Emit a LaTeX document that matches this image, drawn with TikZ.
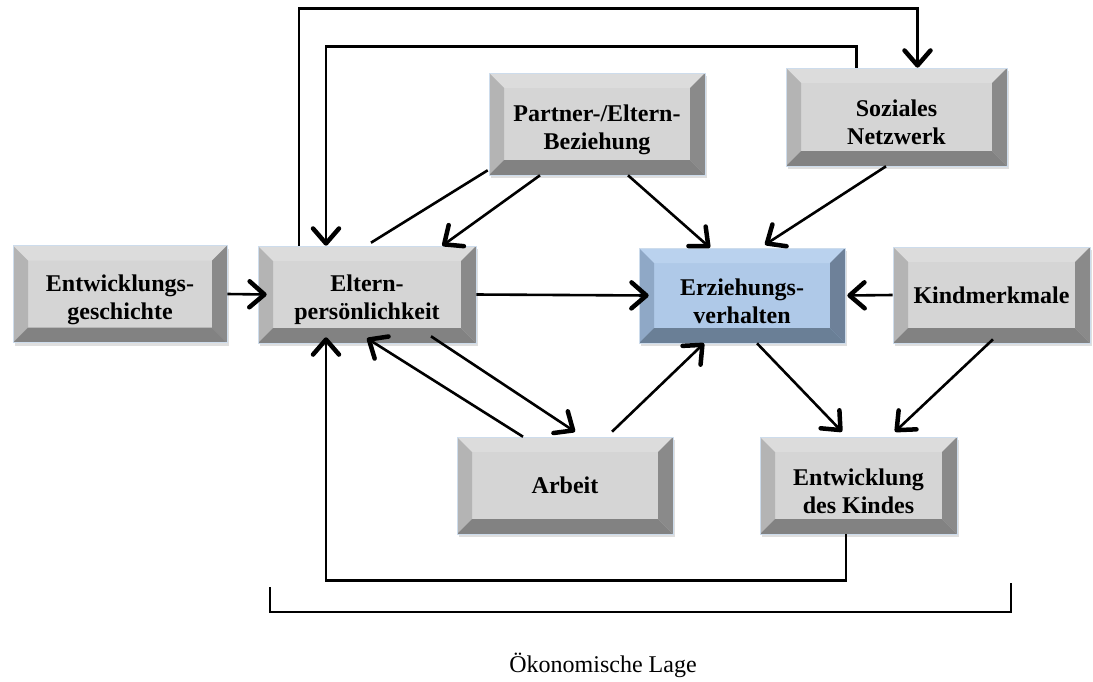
\documentclass[tikz,border=0pt]{standalone}
\usepackage{fontspec}
\setmainfont{Liberation Serif}
\usetikzlibrary{arrows.meta, shadows}
\definecolor{boxface}{RGB}{213,213,213}
\definecolor{boxtop}{RGB}{220,220,220}
\definecolor{boxleft}{RGB}{180,180,180}
\definecolor{boxright}{RGB}{138,138,138}
\definecolor{boxbottom}{RGB}{130,130,130}
\definecolor{bluface}{RGB}{175,201,232}
\definecolor{blutop}{RGB}{186,210,238}
\definecolor{bluleft}{RGB}{143,168,198}
\definecolor{bluright}{RGB}{110,129,153}
\definecolor{blubottom}{RGB}{106,127,150}
\definecolor{boxedge}{RGB}{205,220,236}
\newcommand{\bevelfill}[5]{%
  \fill[#1] (path picture bounding box.south west) rectangle (path picture bounding box.north east);
  \fill[#2] (path picture bounding box.north west) -- (path picture bounding box.north east) -- ([shift={(-15pt,-15pt)}]path picture bounding box.north east) -- ([shift={(15pt,-15pt)}]path picture bounding box.north west) -- cycle;
  \fill[#3] (path picture bounding box.north west) -- ([shift={(15pt,-15pt)}]path picture bounding box.north west) -- ([shift={(15pt,15pt)}]path picture bounding box.south west) -- (path picture bounding box.south west) -- cycle;
  \fill[#4] (path picture bounding box.north east) -- ([shift={(-15pt,-15pt)}]path picture bounding box.north east) -- ([shift={(-15pt,15pt)}]path picture bounding box.south east) -- (path picture bounding box.south east) -- cycle;
  \fill[#5] (path picture bounding box.south west) -- ([shift={(15pt,15pt)}]path picture bounding box.south west) -- ([shift={(-15pt,15pt)}]path picture bounding box.south east) -- (path picture bounding box.south east) -- cycle;
}
\newcommand{\upstrut}{\rule{0pt}{28pt}}
\tikzstyle{box} = [rectangle, minimum width=216pt, minimum height=97pt, inner sep=0pt, align=center, text centered, draw=boxedge, line width=0.6pt, font=\fontsize{24}{28}\selectfont\bfseries, drop shadow={shadow xshift=1.5pt, shadow yshift=-3pt, opacity=0.25}, path picture={\bevelfill{boxface}{boxtop}{boxleft}{boxright}{boxbottom}}]
\tikzstyle{mainbox} = [box, path picture={\bevelfill{bluface}{blutop}{bluleft}{bluright}{blubottom}}]
\tikzstyle{line} = [line width=2.6pt]
\tikzstyle{arrow} = [line width=2.6pt, -{Straight Barb[length=15pt,width=26pt,line width=4.5pt,round]}]
\tikzstyle{textonly} = [font=\fontsize{24}{28}\selectfont]

\begin{document}
\begin{tikzpicture}[x=1pt, y=-1pt]
\useasboundingbox (0,0) rectangle (1093,681);

\node (entw) [box, minimum width=214pt] at (120,294) {\upstrut Entwicklungs-\\geschichte};
\node (eltern) [box, minimum width=218pt] at (367,294.5) {\upstrut Eltern-\\persönlichkeit};
\node (partner) [box, minimum height=102pt] at (597,124) {\upstrut Partner-/Eltern-\\Beziehung};
\node (sozial) [box, minimum width=221pt, minimum height=98pt] at (896.5,117) {\upstrut Soziales\\Netzwerk};
\node (erz) [mainbox, minimum width=206pt, minimum height=95pt] at (742,295.5) {\upstrut Erziehungs-\\verhalten};
\node (kind) [box, minimum width=197pt, minimum height=96pt] at (991.5,295) {Kindmerkmale};
\node (arbeit) [box] at (565,485.5) {Arbeit};
\node (kindentw) [box, minimum width=197pt] at (858.5,485.5) {\upstrut Entwicklung\\des Kindes};

\draw[arrow] ([xshift=-68pt]eltern.north) -- ++(0,-237) -| ([xshift=21pt]sozial.north);
\draw[arrow] ([xshift=-40pt]sozial.north) -- ++(0,-21) -| ([xshift=-41pt]eltern.north);

\draw[line] ([shift={(-1pt,5pt)}]partner.south west) -- ([shift={(4pt,3pt)}]eltern.north);
\draw[arrow] ([xshift=-57pt]partner.south) -- ([xshift=-34pt]eltern.north east);
\draw[arrow] ([xshift=31pt]partner.south) -- ([xshift=-32pt]erz.north);
\draw[arrow] ([xshift=-10.5pt]sozial.south) -- ([shift={(23pt,3pt)}]erz.north);

\draw[arrow] (entw.east) -- ([xshift=9pt]eltern.west);
\draw[arrow] (eltern.east) -- ([xshift=10pt]erz.west);
\draw[arrow] (kind.west) -- ([xshift=2pt]erz.east);

\draw[arrow] ([xshift=-42pt]arbeit.north) -- ([shift={(0pt,5pt)}]eltern.south);
\draw[arrow] ([shift={(64pt,7pt)}]eltern.south) -- ([shift={(10pt,5pt)}]arbeit.north);
\draw[arrow] ([shift={(47pt,5pt)}]arbeit.north) -- ([xshift=-38pt]erz.south);
\draw[arrow] ([xshift=15pt]erz.south) -- ([shift={(-16.5pt,5pt)}]kindentw.north);
\draw[arrow] ([shift={(1.5pt,4pt)}]kind.south) -- ([shift={(36.5pt,5pt)}]kindentw.north);

\draw[arrow] ([xshift=-12.5pt]kindentw.south) -- ++(0,46) -| ([shift={(-41pt,6pt)}]eltern.south);

\coordinate (lagel) at (270,587);
\coordinate (lager) at (1011,583);
\draw[line] (lagel) -- ++(0,25) -| (lager);
\node (lage) [textonly] at (603,665) {Ökonomische Lage};

\end{tikzpicture}
\end{document}
